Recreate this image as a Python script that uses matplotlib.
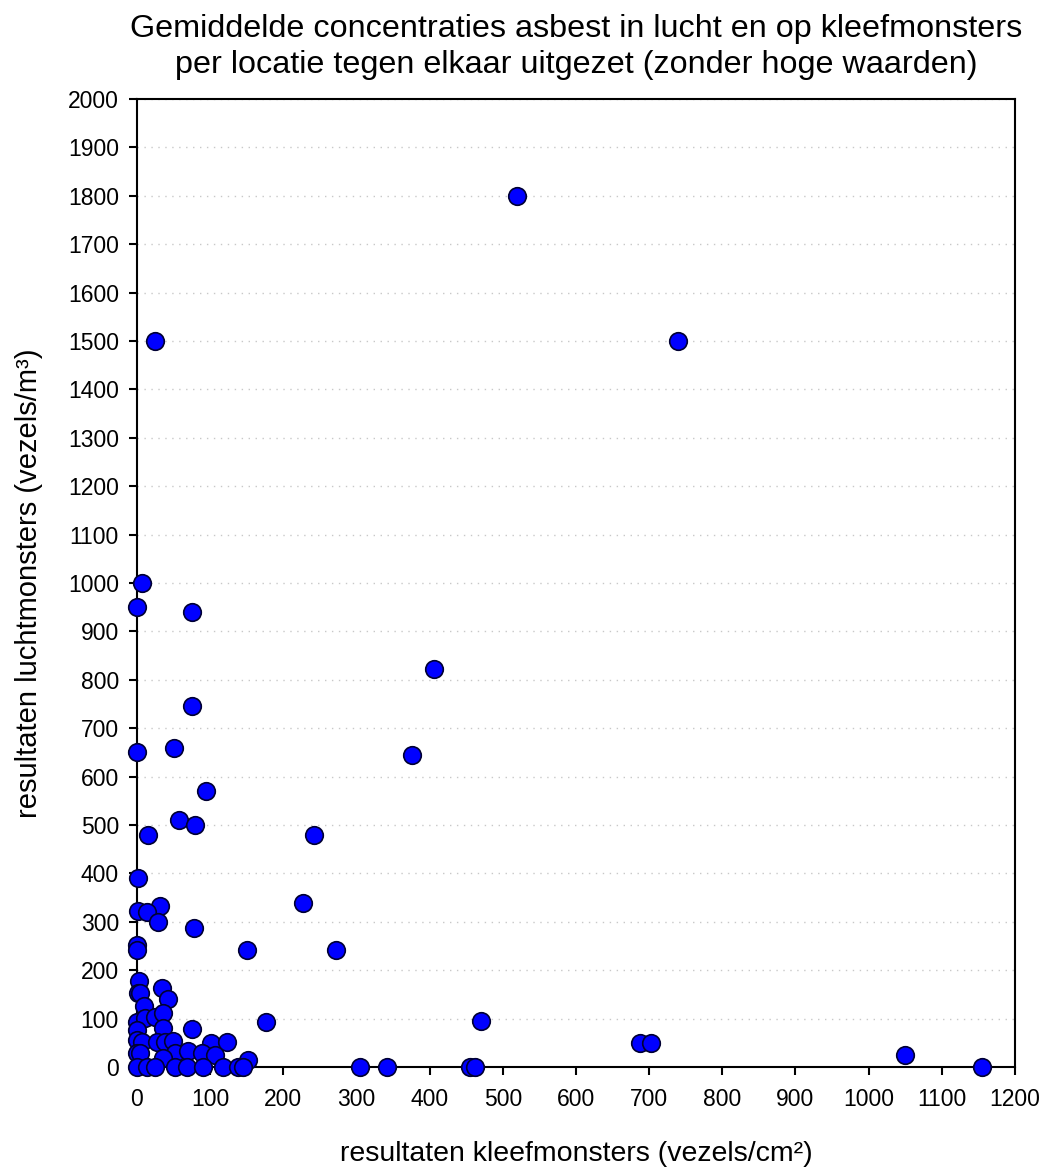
import matplotlib.pyplot as plt

plt.rcParams['font.family'] = ['Liberation Sans', 'DejaVu Sans']

# kleefmonsters (vezels/cm2) vs luchtmonsters (vezels/m3)
kleef = [520, 739, 25, 7, 0, 75, 406, 75, 50, 0, 376, 95, 57, 80, 15, 242,
         1, 227, 31, 1, 14, 78, 29, 150, 272, 0, 0, 176, 470, 688, 702, 1050,
         1155, 305, 342, 455, 462,
         3, 1, 4, 34, 42, 10, 0, 11, 25, 35, 35, 75, 0, 0, 7, 27, 38, 49,
         101, 123, 0, 4, 52, 70, 89, 107, 35, 152,
         0, 14, 25, 52, 68, 90, 118, 138, 145]
lucht = [1800, 1500, 1500, 1000, 950, 940, 822, 745, 660, 650, 645, 570, 510, 500, 480, 480,
         390, 339, 333, 322, 320, 287, 300, 242, 242, 252, 242, 93, 95, 50, 50, 25,
         0, 0, 0, 0, 0,
         178, 153, 153, 163, 140, 126, 93, 101, 103, 112, 81, 78, 76, 56, 52, 52, 52, 54,
         50, 52, 29, 29, 29, 33, 29, 25, 19, 14,
         0, 0, 0, 0, 0, 0, 0, 0, 0]

fig = plt.figure(figsize=(10.47, 11.67), dpi=100)
ax = fig.add_axes([0.1308, 0.0857, 0.8386, 0.8295])

ax.scatter(kleef, lucht, s=160, c='#0000ff', edgecolors='#000033', linewidths=1.2,
           zorder=3, clip_on=False)

ax.set_xlim(0, 1200)
ax.set_ylim(0, 2000)
ax.set_xticks(range(0, 1201, 100))
ax.set_yticks(range(0, 2001, 100))
ax.tick_params(direction='out', length=6, width=1.5, labelsize=16.5)
ax.tick_params(axis='x', pad=9)
ax.tick_params(axis='y', pad=7)
for s in ax.spines.values():
    s.set_linewidth(1.5)
ax.grid(axis='y', linestyle=(0, (1, 4)), color='#c8c8c8', linewidth=1)
ax.set_axisbelow(True)

ax.set_xlabel('resultaten kleefmonsters (vezels/cm²)', fontsize=20.5, labelpad=22)
ax.set_ylabel('resultaten luchtmonsters (vezels/m³)', fontsize=21, labelpad=18)
fig.suptitle('Gemiddelde concentraties asbest in lucht en op kleefmonsters\n'
             'per locatie tegen elkaar uitgezet (zonder hoge waarden)',
             fontsize=23.3, x=0.55, y=0.988, linespacing=1.25)

fig.savefig('out.png', dpi=100)
